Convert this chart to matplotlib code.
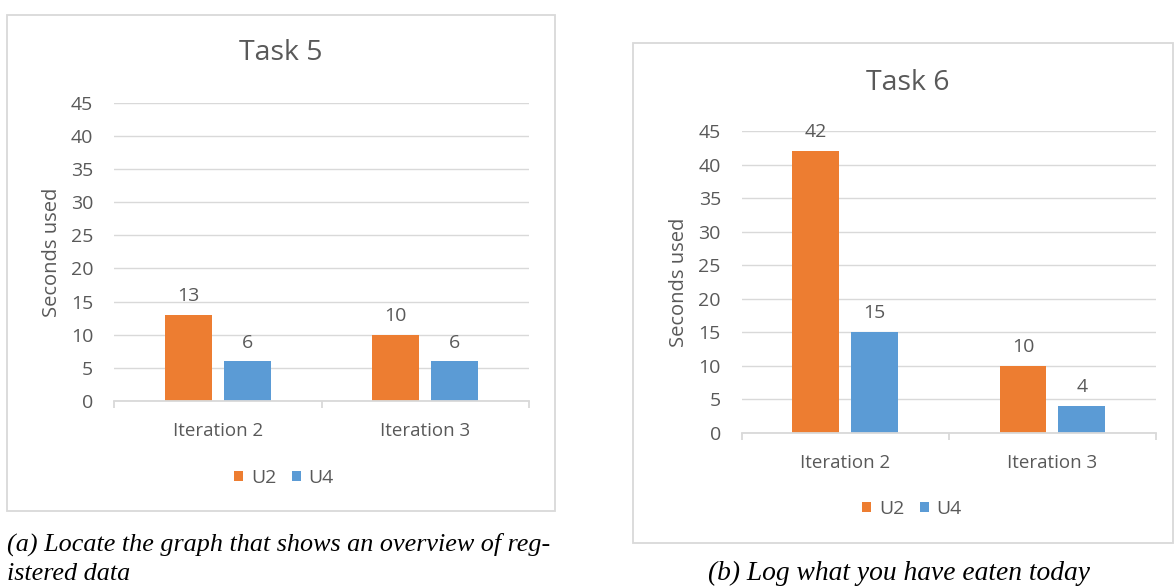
import matplotlib
matplotlib.use("Agg")
import matplotlib.pyplot as plt
from matplotlib.patches import Rectangle
import numpy as np

# ---- data ----
categories = ["Iteration 2", "Iteration 3"]
series_names = ["U2", "U4"]
task5_u2 = [13, 10]
task5_u4 = [6, 6]
task6_u2 = [42, 10]
task6_u4 = [15, 4]
yticks = [0, 5, 10, 15, 20, 25, 30, 35, 40, 45]
titles = ["Task 5", "Task 6"]
ylabel = "Seconds used"
caption_a = "(a) Locate the graph that shows an overview of reg-\nistered data"
caption_b = "(b) Log what you have eaten today"

# ---- style ----
W, H = 1174, 586
ORANGE = "#ED7D31"
BLUE = "#5B9BD5"
GRID = "#D9D9D9"
TXT = "#595959"
FONT = ["Open Sans", "DejaVu Sans"]
SERIF = ["Liberation Serif", "DejaVu Serif"]
plt.rcParams["font.family"] = FONT

fig = plt.figure(figsize=(W / 100, H / 100), dpi=100)


def px_rect(x0, y0, x1, y1):
    return [x0 / W, 1 - y1 / H, (x1 - x0) / W, (y1 - y0) / H]


def panel(border, axbox, u2, u4, title, title_xy, ylab_xy, leg_xy):
    bx0, by0, bx1, by1 = border
    fig.patches.append(Rectangle((bx0 / W, 1 - by1 / H), (bx1 - bx0) / W, (by1 - by0) / H,
                                 transform=fig.transFigure, fill=False,
                                 edgecolor=GRID, linewidth=1.3))
    ax = fig.add_axes(px_rect(*axbox))
    x = np.arange(len(categories))
    bw = 0.2265
    off = 0.142
    b1 = ax.bar(x - off, u2, bw, color=ORANGE, label=series_names[0], zorder=3)
    b2 = ax.bar(x + off, u4, bw, color=BLUE, label=series_names[1], zorder=3)
    ax.bar_label(b1, padding=7, fontsize=14, color=TXT)
    ax.bar_label(b2, padding=7, fontsize=14, color=TXT)
    ax.set_xlim(-0.5, len(categories) - 0.5)
    ax.set_ylim(0, 45)
    ax.set_yticks(yticks)
    ax.set_xticks(x)
    ax.set_xticklabels(categories)
    ax.set_xticks(np.arange(len(categories) + 1) - 0.5, minor=True)
    ax.tick_params(axis="x", which="major", length=0, pad=15, labelsize=13.5, labelcolor=TXT)
    ax.tick_params(axis="x", which="minor", length=5, width=1.3, color=GRID)
    ax.tick_params(axis="y", length=0, pad=15, labelsize=14, labelcolor=TXT)
    for s in ["top", "left", "right"]:
        ax.spines[s].set_visible(False)
    ax.spines["bottom"].set_color(GRID)
    ax.spines["bottom"].set_linewidth(1.3)
    ax.spines["bottom"].set_zorder(4)
    ax.grid(axis="y", color=GRID, linewidth=1.0, zorder=0)
    ax.set_axisbelow(True)
    fig.text(title_xy[0] / W, 1 - title_xy[1] / H, title, ha="center", va="center",
             fontsize=20.5, color=TXT)
    fig.text(ylab_xy[0] / W, 1 - ylab_xy[1] / H, ylabel, ha="center", va="center",
             rotation=90, fontsize=14.5, color=TXT)
    ax.legend(loc="center", bbox_to_anchor=(leg_xy[0] / W, 1 - leg_xy[1] / H),
              bbox_transform=fig.transFigure, ncol=2, frameon=False,
              handlelength=0.46, handleheight=0.46, columnspacing=0.8,
              handletextpad=0.4, fontsize=14, labelcolor=TXT)
    return ax


panel((6.5, 14.5, 555, 510.5), (114, 102.7, 529, 401), task5_u2, task5_u4,
      titles[0], (281, 53), (52, 252), (284, 478))
panel((633.3, 42.7, 1173, 542.7), (741.7, 131, 1156, 432.7), task6_u2, task6_u4,
      titles[1], (908, 83), (679, 282), (912, 509))

fig.text(7 / W, 1 - 559 / H, caption_a, ha="left", va="center", fontsize=18.8,
         family=SERIF, style="italic", color="black", linespacing=1.38)
fig.text(899 / W, 1 - 573 / H, caption_b, ha="center", va="center", fontsize=19.8,
         family=SERIF, style="italic", color="black")

fig.savefig("out.png", dpi=100)
